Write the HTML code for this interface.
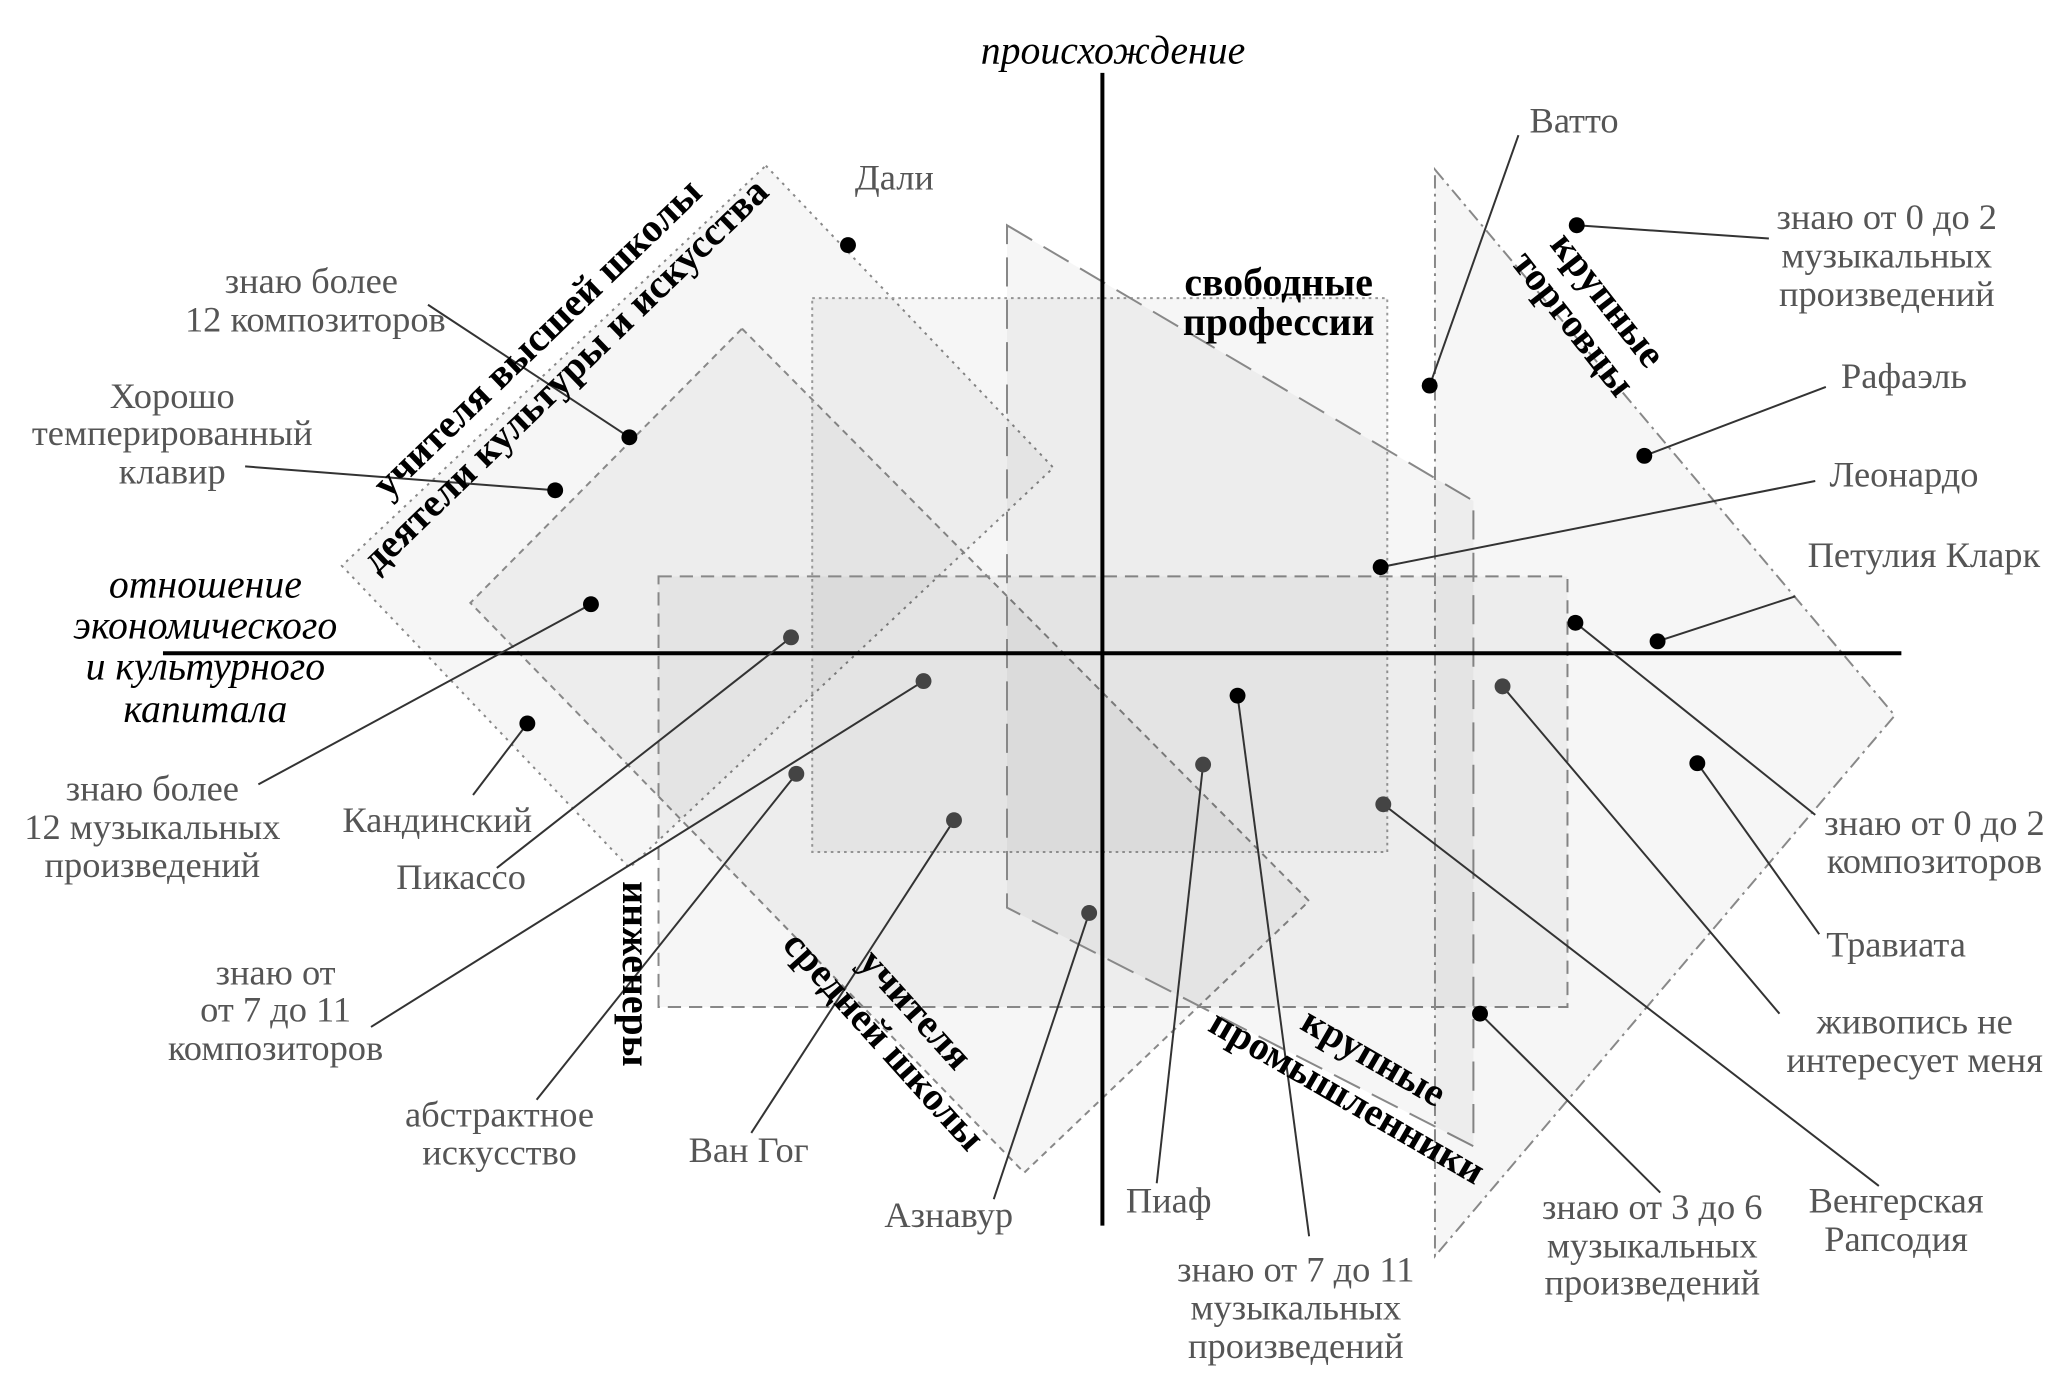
<!DOCTYPE html>
<html><head><meta charset="utf-8"><style>
html,body{margin:0;padding:0;background:#fff}
svg{display:block}
text{font-family:"Liberation Serif",serif;font-size:27.5px;fill:#555}
.b{font-weight:bold;fill:#000;font-size:30px}
.i{font-style:italic;fill:#000;font-size:30px}
</style></head><body>
<svg width="2067" height="1388" viewBox="0 0 1560 1047.5" preserveAspectRatio="none" xmlns="http://www.w3.org/2000/svg">
<g fill="#000" fill-opacity="0.035">
<polygon points="578,125 795,353 475,655 258,427" stroke="#888" stroke-dasharray="2,4" stroke-width="1.5"/>
<polygon points="560,248 988,680 773,885 355,455" stroke="#888" stroke-dasharray="5,4" stroke-width="1.5"/>
<rect x="613" y="225" width="434" height="418" stroke="#999" stroke-dasharray="2,3" stroke-width="1.5"/>
<rect x="497" y="435" width="686" height="325" stroke="#888" stroke-dasharray="10,6" stroke-width="1.5"/>
<polygon points="760,170 1112,378 1112,865 760,685" stroke="#888" stroke-dasharray="22,10" stroke-width="1.5"/>
<polygon points="1083,128 1430,540 1083,948" stroke="#888" stroke-dasharray="10,4,2,4" stroke-width="1.5"/>
</g>
<line x1="832" y1="55" x2="832" y2="925" stroke="#000" stroke-width="3"/>
<line x1="123" y1="493" x2="1435" y2="493" stroke="#000" stroke-width="3"/>
<g stroke="#333" stroke-width="1.5">
<line x1="323" y1="230" x2="475" y2="330"/>
<line x1="185" y1="352" x2="419" y2="370"/>
<line x1="357" y1="600" x2="398" y2="546"/>
<line x1="195" y1="592" x2="446" y2="456"/>
<line x1="375" y1="655" x2="597" y2="481"/>
<line x1="280" y1="775" x2="697" y2="514"/>
<line x1="405" y1="830" x2="601" y2="584"/>
<line x1="567" y1="855" x2="720" y2="619"/>
<line x1="750" y1="905" x2="822" y2="689"/>
<line x1="873" y1="893" x2="908" y2="577"/>
<line x1="988" y1="933" x2="934" y2="525"/>
<line x1="1253" y1="900" x2="1117" y2="765"/>
<line x1="1418" y1="895" x2="1044" y2="607"/>
<line x1="1343" y1="765" x2="1134" y2="518"/>
<line x1="1373" y1="705" x2="1281" y2="576"/>
<line x1="1370" y1="615" x2="1189" y2="470"/>
<line x1="1355" y1="450" x2="1251" y2="484"/>
<line x1="1370" y1="363" x2="1042" y2="428"/>
<line x1="1378" y1="292" x2="1241" y2="344"/>
<line x1="1335" y1="180" x2="1190" y2="170"/>
<line x1="1146" y1="102" x2="1079" y2="291"/>
</g>
<g fill="#000">
<circle cx="640" cy="185" r="6"/><circle cx="475" cy="330" r="6"/><circle cx="419" cy="370" r="6"/>
<circle cx="398" cy="546" r="6"/><circle cx="446" cy="456" r="6"/><circle cx="934" cy="525" r="6"/>
<circle cx="1117" cy="765" r="6"/><circle cx="1281" cy="576" r="6"/><circle cx="1189" cy="470" r="6"/>
<circle cx="1251" cy="484" r="6"/><circle cx="1042" cy="428" r="6"/><circle cx="1241" cy="344" r="6"/>
<circle cx="1190" cy="170" r="6"/><circle cx="1079" cy="291" r="6"/>
</g>
<g fill="#444">
<circle cx="597" cy="481" r="6"/><circle cx="697" cy="514" r="6"/><circle cx="601" cy="584" r="6"/>
<circle cx="720" cy="619" r="6"/><circle cx="822" cy="689" r="6"/><circle cx="908" cy="577" r="6"/>
<circle cx="1044" cy="607" r="6"/><circle cx="1134" cy="518" r="6"/>
</g>
<g text-anchor="middle">
<text x="675" y="143">Дали</text>
<text x="235" y="221">знаю более</text><text x="238" y="250">12 композиторов</text>
<text x="130" y="308">Хорошо</text><text x="130" y="336">темперированный</text><text x="130" y="365">клавир</text>
<text x="330" y="628">Кандинский</text>
<text x="115" y="604">знаю более</text><text x="115" y="633">12 музыкальных</text><text x="115" y="662">произведений</text>
<text x="348" y="671">Пикассо</text>
<text x="208" y="743">знаю от</text><text x="208" y="771">от 7 до 11</text><text x="208" y="800">композиторов</text>
<text x="377" y="850">абстрактное</text><text x="377" y="879">искусство</text>
<text x="565" y="877">Ван Гог</text>
<text x="716" y="926">Азнавур</text>
<text x="882" y="915">Пиаф</text>
<text x="978" y="967">знаю от 7 до 11</text><text x="978" y="996">музыкальных</text><text x="978" y="1025">произведений</text>
<text x="1247" y="920">знаю от 3 до 6</text><text x="1247" y="949">музыкальных</text><text x="1247" y="977">произведений</text>
<text x="1431" y="915">Венгерская</text><text x="1431" y="944">Рапсодия</text>
<text x="1445" y="780">живопись не</text><text x="1445" y="809">интересует меня</text>
<text x="1431" y="722">Травиата</text>
<text x="1460" y="630">знаю от 0 до 2</text><text x="1460" y="659">композиторов</text>
<text x="1452" y="428">Петулия Кларк</text>
<text x="1437" y="367">Леонардо</text>
<text x="1437" y="293">Рафаэль</text>
<text x="1424" y="173">знаю от 0 до 2</text><text x="1424" y="202">музыкальных</text><text x="1424" y="231">произведений</text>
<text x="1188" y="100">Ватто</text>
<text class="i" x="840" y="48">происхождение</text>
<text class="i" x="155" y="451">отношение</text><text class="i" x="155" y="482">экономического</text>
<text class="i" x="155" y="513">и культурного</text><text class="i" x="155" y="545">капитала</text>
<text class="b" x="965" y="223">свободные</text><text class="b" x="965" y="253">профессии</text>
<text class="b" transform="translate(412,262) rotate(-44)">учителя высшей школы</text>
<text class="b" transform="translate(433,290) rotate(-44)">деятели культуры и искусства</text>
<text class="b" transform="translate(684,768) rotate(48)">учителя</text>
<text class="b" transform="translate(660,792) rotate(48)">средней школы</text>
<text class="b" transform="translate(470,735) rotate(90)">инженеры</text>
<text class="b" transform="translate(1206,232) rotate(52)">крупные</text>
<text class="b" transform="translate(1180,250) rotate(52)">торговцы</text>
<text class="b" transform="translate(1032,806) rotate(30)">крупные</text>
<text class="b" transform="translate(1012,836) rotate(30)">промышленники</text>
</g>
</svg>
</body></html>
